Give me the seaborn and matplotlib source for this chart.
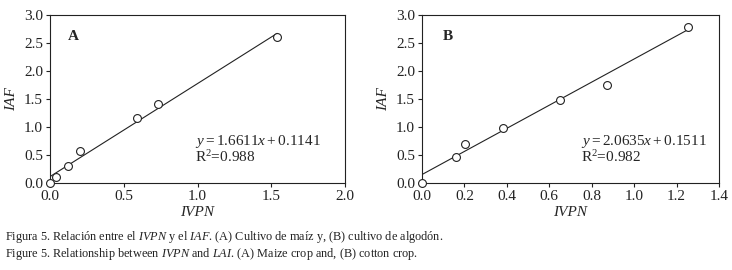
import numpy as np
import pandas as pd
from matplotlib import pyplot as plt
import seaborn as sns

sns.set_style("ticks")
plt.rcParams['font.family'] = 'Liberation Serif'
plt.rcParams['mathtext.fontset'] = 'custom'
plt.rcParams['mathtext.rm'] = 'Liberation Serif'
plt.rcParams['mathtext.it'] = 'Liberation Serif:italic'

# panel A: maize
ivpn_a = [0.0, 0.04, 0.125, 0.2, 0.59, 0.735, 1.54]
iaf_a = [0.0, 0.10, 0.31, 0.58, 1.16, 1.41, 2.61]
slope_a, icpt_a, r2_a = 1.6611, 0.1141, 0.988

# panel B: cotton
ivpn_b = [0.0, 0.16, 0.205, 0.38, 0.65, 0.87, 1.255]
iaf_b = [0.0, 0.47, 0.70, 0.98, 1.49, 1.75, 2.79]
slope_b, icpt_b, r2_b = 2.0635, 0.1511, 0.982

fig = plt.figure(figsize=(7.32, 2.70), dpi=100)
ax_a = fig.add_axes([50/732, 1 - 183/270, 295/732, 168/270])
ax_b = fig.add_axes([422/732, 1 - 183/270, 297/732, 168/270])

panels = [
    (ax_a, ivpn_a, iaf_a, slope_a, icpt_a, r2_a, "A", 2.0, 0.5, 0.49, 0.06),
    (ax_b, ivpn_b, iaf_b, slope_b, icpt_b, r2_b, "B", 1.4, 0.2, 0.535, 0.07),
]

for ax, xs, ys, m, b, r2, tag, xmax, xstep, eqx, tagx in panels:
    df = pd.DataFrame({"IVPN": xs, "IAF": ys})
    fit = pd.DataFrame({"IVPN": [0.0, max(xs)]})
    fit["IAF"] = m * fit["IVPN"] + b
    sns.lineplot(data=fit, x="IVPN", y="IAF", ax=ax, color="#222222", linewidth=0.8)
    sns.scatterplot(data=df, x="IVPN", y="IAF", ax=ax, marker="o", s=32,
                    facecolor="white", edgecolor="#222222", linewidth=0.8,
                    zorder=3, clip_on=False)
    ax.set_xlim(0, xmax)
    ax.set_ylim(0, 3.0)
    ax.set_xticks(np.arange(0, xmax + 0.001, xstep))
    ax.set_yticks(np.arange(0, 3.01, 0.5))
    ax.xaxis.set_major_formatter(plt.FormatStrFormatter('%.1f'))
    ax.yaxis.set_major_formatter(plt.FormatStrFormatter('%.1f'))
    ax.tick_params(direction="out", length=3, width=0.8, labelsize=11,
                   colors="#222222", pad=2)
    for sp in ax.spines.values():
        sp.set_linewidth(0.8)
        sp.set_color("#222222")
    ax.set_xlabel("IVPN", fontsize=11, style="italic", labelpad=2)
    ax.set_ylabel("IAF", fontsize=11, style="italic", labelpad=4)
    ax.text(tagx, 0.875, tag, transform=ax.transAxes, fontsize=11,
            fontweight="bold", va="center")
    ax.text(eqx, 0.245, rf"$y = {m:.4f}x + {b:.4f}$",
            transform=ax.transAxes, fontsize=11, va="center")
    ax.text(eqx, 0.155, rf"R$^2$={r2:.3f}", transform=ax.transAxes,
            fontsize=11, va="center")

fig.text(5/732, 1 - 237/270,
         r"Figura 5. Relación entre el $IVPN$ y el $IAF$. (A) Cultivo de maíz y, (B) cultivo de algodón.",
         fontsize=8.8, va="center", color="#222222")
fig.text(5/732, 1 - 254/270,
         r"Figure 5. Relationship between $IVPN$ and $LAI$. (A) Maize crop and, (B) cotton crop.",
         fontsize=8.8, va="center", color="#222222")

fig.savefig("out.png", dpi=100)
